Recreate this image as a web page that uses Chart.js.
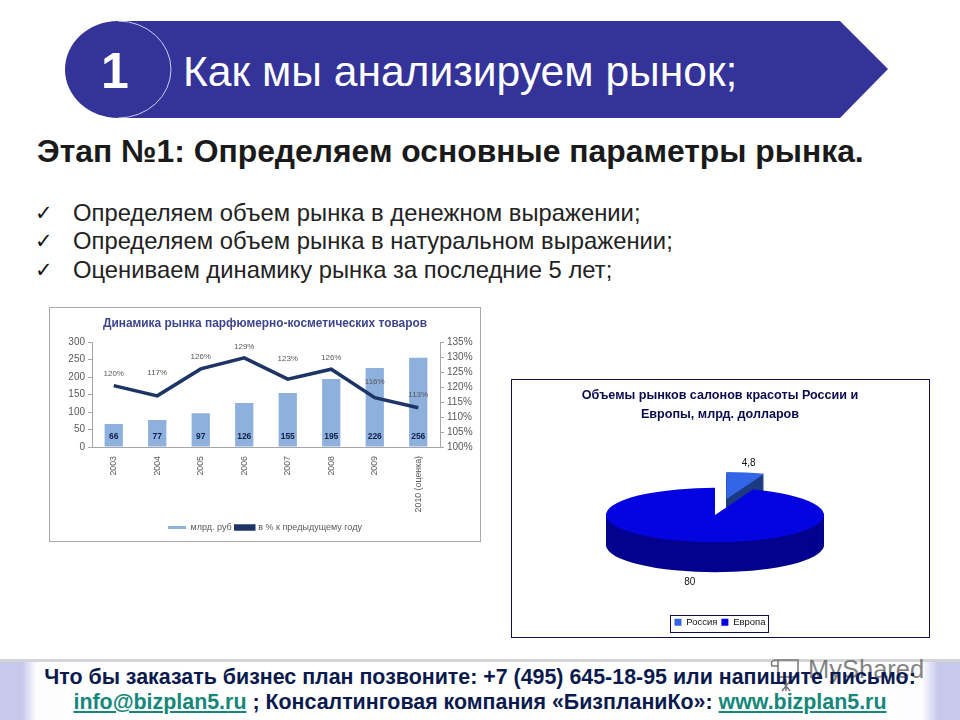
<!DOCTYPE html>
<html lang="ru">
<head>
<meta charset="utf-8">
<title>Как мы анализируем рынок</title>
<script src="https://cdn.jsdelivr.net/npm/chart.js@4"></script>
<style>
  html, body { margin: 0; padding: 0; background: #fff; }
  body { position: relative; width: 960px; height: 720px; overflow: hidden; font-family: "Liberation Sans", Arial, sans-serif; }
  .abs { position: absolute; white-space: nowrap; }
  #banner { position: absolute; left: 0; top: 0; }
  #stage { left: 37px; top: 133px; font-size: 31.85px; line-height: 37px; font-weight: bold; color: #1a1a1a; }
  .item { left: 73px; font-size: 23.8px; line-height: 28px; color: #222; }
  .tick { left: 35px; font-size: 21px; line-height: 28px; color: #111; font-family: "DejaVu Sans", sans-serif; }
  #leftBox { left: 50px; top: 308px; width: 430px; height: 232px; }
  #rightBox { left: 511px; top: 379px; width: 418px; height: 258px; }
  #leftBox canvas { position: absolute; left: 0; top: 0; }
  #rightBox canvas { position: absolute; left: 0; top: 0; }
  #leftFrame { left: 49px; top: 307px; width: 430px; height: 233px; border: 1px solid #a8a8a8; }
  #rightFrame { left: 511px; top: 379px; width: 417px; height: 257px; border: 1px solid #10104a; }
  #footer { left: 0; top: 659px; width: 960px; height: 61px; border-top: 3px solid #d4d4d8; box-sizing: border-box;
    background: linear-gradient(to right, #c6c8ec 0, #c6c8ec 22px, #fdfdff 36px, #fff 200px, #fff 760px, #fdfdff 922px, #c6c8ec 938px, #c6c8ec 960px); }
  .foot { left: 0; width: 960px; text-align: center; font-size: 21.4px; line-height: 25px; font-weight: bold; color: #0b1a4e; }
  .foot a { color: #14877a; text-decoration: underline; }
  #mark { left: 808px; top: 654px; font-size: 25.5px; line-height: 30px; color: rgba(90, 90, 90, 0.75); }
  #markIcon { position: absolute; left: 768px; top: 657px; }
</style>
</head>
<body>

<svg id="banner" width="960" height="130">
  <polygon points="118,21 840,21 888,69 840,118 118,118" fill="#333399"></polygon>
  <ellipse cx="118" cy="69.5" rx="53" ry="48.5" fill="#333399"></ellipse>
  <path d="M118 21 A53 48.5 0 0 1 118 118" fill="none" stroke="#c9cdf2" stroke-width="1"></path>
  <text x="115" y="88" text-anchor="middle" font-family="Liberation Sans" font-size="50" font-weight="bold" fill="#fff">1</text>
  <text x="183" y="86" font-family="Liberation Sans" font-size="42.6" fill="#fff">Как мы анализируем рынок;</text>
</svg>

<div class="abs" id="stage">Этап №1: Определяем основные параметры рынка.</div>

<div class="abs tick" style="top:199px">✓</div>
<div class="abs item" style="top:199px">Определяем объем рынка в денежном выражении;</div>
<div class="abs tick" style="top:227px">✓</div>
<div class="abs item" style="top:227px">Определяем объем рынка в натуральном выражении;</div>
<div class="abs tick" style="top:256px">✓</div>
<div class="abs item" style="top:256px">Оцениваем динамику рынка за последние 5 лет;</div>

<div class="abs" id="leftFrame"></div>
<div class="abs" id="leftBox"><canvas id="marketChart" width="430" height="232"></canvas></div>

<div class="abs" id="rightFrame"></div>
<div class="abs" id="rightBox"><canvas id="salonChart" width="418" height="258"></canvas></div>

<div class="abs" id="footer"></div>
<svg id="markIcon" width="36" height="36" fill="none" stroke="#777" stroke-width="1.5">
  <path d="M7 3 H30 V20 H10 V3 M7 3 Q2 4 4 9 L10 9"></path>
  <path d="M14 24 L22 34 M22 24 L14 34 M18 22 V34"></path>
</svg>
<div class="abs" id="mark">MyShared</div>
<div class="abs foot" style="top:665px">Что бы заказать бизнес план позвоните: +7 (495) 645-18-95 или напишите письмо:</div>
<div class="abs foot" style="top:690px"><a href="#">info@bizplan5.ru</a> ; Консалтинговая компания «БизпланиКо»: <a href="#">www.bizplan5.ru</a></div>

<script>
// Chart data
const years = ['2003', '2004', '2005', '2006', '2007', '2008', '2009', '2010 (оценка)'];
const marketValues = [66, 77, 97, 126, 155, 195, 226, 256];
const growthValues = [120.5, 117.1, 126.1, 129.8, 122.7, 126, 116.5, 113.1];
const growthLabels = ['120%', '117%', '126%', '129%', '123%', '126%', '116%', '113%'];
const salonRegions = ['Россия', 'Европа'];
const salonValues = [4.8, 80];
const salonLabels = ['4,8', '80'];

const SANS = '"Liberation Sans", Arial, sans-serif';
const GREY = '#595959';

// How far above its point each percent label sits
const growthLift = [12, 23, 12, 11, 20, 11, 16, 13];

// Value labels for the bars and the line
const marketLabels = {
  id: 'marketLabels',
  afterDatasetsDraw(chart) {
    const ctx = chart.ctx;
    const bars = chart.getDatasetMeta(0).data;
    const points = chart.getDatasetMeta(1).data;
    const base = chart.scales.y.getPixelForValue(0);
    ctx.save();
    ctx.textAlign = 'center';
    ctx.textBaseline = 'middle';
    ctx.font = 'bold 8.5px ' + SANS;
    ctx.fillStyle = '#10204a';
    bars.forEach((bar, i) => ctx.fillText(marketValues[i], bar.x, base - 10));
    ctx.font = '8px ' + SANS;
    ctx.fillStyle = GREY;
    points.forEach((pt, i) => ctx.fillText(growthLabels[i], pt.x, pt.y - growthLift[i]));
    ctx.restore();
  },
};

new Chart(document.getElementById('marketChart'), {
  data: {
    labels: years,
    datasets: [
      {
        type: 'bar',
        label: 'млрд. руб',
        data: marketValues,
        backgroundColor: '#8db0dc',
        barPercentage: 0.42,
        categoryPercentage: 1,
        yAxisID: 'y',
        order: 2,
      },
      {
        type: 'line',
        label: 'в % к предыдущему году',
        data: growthValues,
        borderColor: '#1c3566',
        backgroundColor: '#1c3566',
        borderWidth: 3.5,
        pointRadius: 0,
        tension: 0,
        yAxisID: 'y1',
        order: 1,
      },
    ],
  },
  options: {
    responsive: false,
    animation: false,
    layout: { padding: { bottom: -2 } },
    plugins: {
      title: {
        display: true,
        text: 'Динамика рынка парфюмерно-косметических товаров',
        color: '#3d4590',
        font: { family: SANS, size: 11.9, weight: 'bold' },
        padding: { top: 9, bottom: 11 },
      },
      legend: {
        position: 'bottom',
        labels: {
          boxWidth: 18,
          boxHeight: 3,
          color: GREY,
          font: { family: SANS, size: 9 },
          padding: 4,
          sort: (a, b) => a.datasetIndex - b.datasetIndex,
        },
      },
      tooltip: { enabled: false },
    },
    scales: {
      x: {
        grid: { display: false },
        border: { color: '#a6a6a6' },
        ticks: { color: GREY, font: { family: SANS, size: 8.8 }, minRotation: 90, maxRotation: 90, padding: 1 },
        afterFit: (scale) => { scale.height = 72; },
      },
      y: {
        min: 0,
        max: 300,
        grid: { drawOnChartArea: false, color: '#a6a6a6', tickLength: 4 },
        border: { color: '#a6a6a6' },
        ticks: { stepSize: 50, color: GREY, font: { family: SANS, size: 10 }, padding: 3 },
        afterFit: (scale) => { scale.width = 42; },
      },
      y1: {
        position: 'right',
        min: 100,
        max: 135,
        grid: { drawOnChartArea: false, color: '#a6a6a6', tickLength: 4 },
        border: { color: '#a6a6a6' },
        ticks: { stepSize: 5, autoSkip: false, color: GREY, font: { family: SANS, size: 10 }, padding: 3, callback: (v) => v + '%' },
        afterFit: (scale) => { scale.width = 40; },
      },
    },
  },
  plugins: [marketLabels],
});

// Side colours of the tilted pie
const salonSides = ['#1b3a82', '#03038e'];
const PIE_TILT = 0.25;
const PIE_DEPTH = 30;
const PIE_CENTER = { x: 204, y: 136 };
const PIE_LIFT = [64, 0];

// Squash the library's arcs into an ellipse and stack them to get the 3D side
const tiltedPie = {
  id: 'tiltedPie',
  beforeDatasetDraw(chart) {
    const ctx = chart.ctx;
    const arcs = chart.getDatasetMeta(0).data;
    arcs.forEach((arc, i) => {
      const top = arc.options;
      const mid = (arc.startAngle + arc.endAngle) / 2;
      const liftX = Math.cos(mid) * PIE_LIFT[i];
      const liftY = Math.sin(mid) * PIE_LIFT[i] * PIE_TILT;
      for (let d = PIE_DEPTH; d >= 0; d--) {
        arc.options = d === 0 ? top : { ...top, backgroundColor: salonSides[i] };
        ctx.save();
        ctx.translate(PIE_CENTER.x + liftX, PIE_CENTER.y + liftY + d);
        ctx.scale(1, PIE_TILT);
        ctx.translate(-arc.x, -arc.y);
        arc.draw(ctx);
        ctx.restore();
      }
      arc.options = top;
    });
    return false;
  },
  afterDatasetsDraw(chart) {
    const ctx = chart.ctx;
    const arcs = chart.getDatasetMeta(0).data;
    ctx.save();
    ctx.font = '10px ' + SANS;
    ctx.fillStyle = '#111';
    ctx.textAlign = 'center';
    ctx.textBaseline = 'middle';
    // Russia sits on the lifted slice, Europe under the side wall
    const mid0 = (arcs[0].startAngle + arcs[0].endAngle) / 2;
    const mid1 = (arcs[1].startAngle + arcs[1].endAngle) / 2;
    const r = arcs[0].outerRadius;
    ctx.fillText(salonLabels[0],
      PIE_CENTER.x + Math.cos(mid0) * (r + PIE_LIFT[0]) + 3,
      PIE_CENTER.y + Math.sin(mid0) * (r + PIE_LIFT[0]) * PIE_TILT - 9);
    ctx.fillText(salonLabels[1],
      PIE_CENTER.x + Math.cos(mid1) * r - 6,
      PIE_CENTER.y + Math.sin(mid1) * r * PIE_TILT + PIE_DEPTH + 10);
    // Frame around the legend
    const boxes = chart.legend.legendHitBoxes;
    const left = boxes[0].left - 4;
    const right = boxes[boxes.length - 1].left + boxes[boxes.length - 1].width + 3;
    ctx.strokeStyle = '#10104a';
    ctx.lineWidth = 1;
    ctx.strokeRect(Math.round(left) + 0.5, Math.round(boxes[0].top - 3) + 0.5, Math.round(right - left), 17);
    ctx.restore();
  },
};

new Chart(document.getElementById('salonChart'), {
  type: 'pie',
  data: {
    labels: salonRegions,
    datasets: [
      {
        data: salonValues,
        backgroundColor: ['#3366e6', '#0404e0'],
        borderWidth: 0,
      },
    ],
  },
  options: {
    responsive: false,
    animation: false,
    radius: 109,
    plugins: {
      title: {
        display: true,
        text: ['Объемы рынков салонов красоты России и', 'Европы, млрд. долларов'],
        color: '#0b0b50',
        font: { family: SANS, size: 12.6, weight: 'bold', lineHeight: 1.43 },
        padding: { top: 8, bottom: 4 },
      },
      legend: {
        position: 'bottom',
        labels: {
          boxWidth: 7,
          boxHeight: 7,
          color: '#111',
          font: { family: SANS, size: 9.5 },
          padding: 4,
        },
      },
      tooltip: { enabled: false },
    },
  },
  plugins: [tiltedPie],
});
</script>
</body>
</html>
